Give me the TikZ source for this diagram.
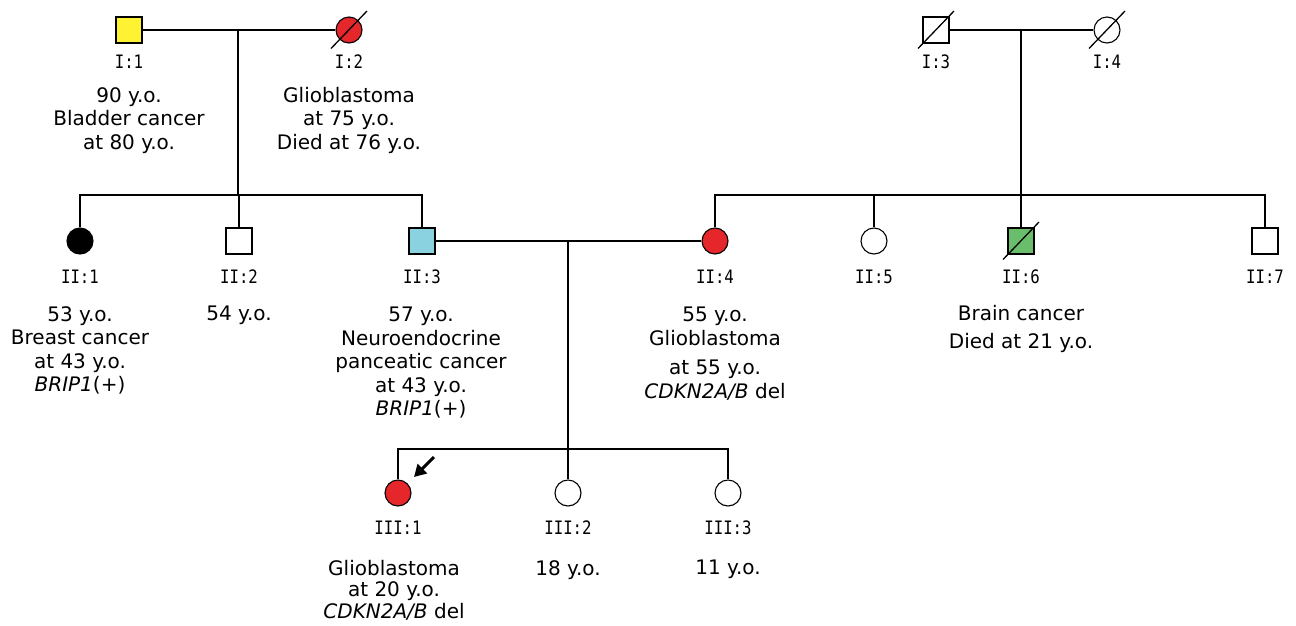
\documentclass[tikz,border=0pt]{standalone}
\usepackage{fontspec}
\setmainfont{DejaVu Sans}
\newfontfamily\labelfont[FakeStretch=0.85]{DejaVu Sans Mono}
\usetikzlibrary{arrows.meta,calc}
\definecolor{glioRed}{RGB}{229,38,43}
\definecolor{bladderYellow}{RGB}{255,242,50}
\definecolor{pancCyan}{RGB}{138,210,224}
\definecolor{brainGreen}{RGB}{106,190,107}
\tikzset{
    male/.style = {
        draw, rectangle,
        minimum size=26pt,
        inner sep=0pt,
        line width=1.1pt,
        },
    female/.style = {
        draw, circle,
        minimum size=26pt,
        inner sep=0pt,
        line width=1.1pt,
        },
    deceased/.style = {
        line width=1.3pt,
        },
    family line/.style = {
        draw,
        line width=1.6pt,
        },
    person id/.style = {
        font=\labelfont\fontsize{18.5}{22}\selectfont,
        inner sep=0pt,
        },
    info/.style = {
        font=\fontsize{20}{23.5}\selectfont,
        align=center,
        anchor=north,
        inner sep=0pt,
        },
    proband/.style = {
        -{Triangle[length=12pt,width=13pt]},
        line width=3pt,
        },
}

\begin{document}
\begin{tikzpicture}[x=1pt,y=-1pt]
            \useasboundingbox (0,0) rectangle (1296,625);

            \node[male, fill=bladderYellow] (I1) at (129,30) {};
            \node[female, fill=glioRed] (I2) at (349,30) {};
            \node[male] (I3) at (936,30) {};
            \node[female] (I4) at (1107,30) {};

            \node[female, fill=black] (II1) at (80,241) {};
            \node[male] (II2) at (239,241) {};
            \node[male, fill=pancCyan] (II3) at (422,241) {};
            \node[female, fill=glioRed] (II4) at (715,241) {};
            \node[female] (II5) at (874,241) {};
            \node[male, fill=brainGreen] (II6) at (1021,241) {};
            \node[male] (II7) at (1265,241) {};

            \node[female, fill=glioRed] (III1) at (398,493) {};
            \node[female] (III2) at (568,493) {};
            \node[female] (III3) at (728,493) {};

            \coordinate (m1) at (238,30);
            \coordinate (s1) at (238,195);
            \coordinate (m2) at (1021,30);
            \coordinate (s2) at (1021,195);
            \coordinate (m3) at (568,241);
            \coordinate (s3) at (568,449);

            \draw[family line] (I1) -- (I2);
            \draw[family line] (m1) -- (s1);
            \draw[family line] (II1) |- (s1) -| (II3);
            \draw[family line] (II2 |- s1) -- (II2);
            \draw[family line] (I3) -- (I4);
            \draw[family line] (m2) -- (II6);
            \draw[family line] (II4) |- (s2) -| (II7);
            \draw[family line] (II5 |- s2) -- (II5);
            \draw[family line] (II3) -- (II4);
            \draw[family line] (m3) -- (III2);
            \draw[family line] (III1) |- (s3) -| (III3);

            \draw[deceased] ($(I2)+(-18,18.5)$) -- ($(I2)+(18,-19)$);
            \draw[deceased] ($(I3)+(-18,18.5)$) -- ($(I3)+(18,-19)$);
            \draw[deceased] ($(I4)+(-18,18.5)$) -- ($(I4)+(18,-19)$);
            \draw[deceased] ($(II6)+(-18,18.5)$) -- ($(II6)+(18,-19)$);

            \coordinate (arrowStart) at (434,457);
            \coordinate (arrowEnd) at (414,477);
            \draw[proband] (arrowStart) -- (arrowEnd);

            \node[person id] (I1id) at (129,61.5) {I:1};
            \node[person id] (I2id) at (349,61.5) {I:2};
            \node[person id] (I3id) at (936,61.5) {I:3};
            \node[person id] (I4id) at (1107,61.5) {I:4};
            \node[person id] (II1id) at (80,276.5) {II:1};
            \node[person id] (II2id) at (239,276.5) {II:2};
            \node[person id] (II3id) at (422,276.5) {II:3};
            \node[person id] (II4id) at (715,276.5) {II:4};
            \node[person id] (II5id) at (874,276.5) {II:5};
            \node[person id] (II6id) at (1021,276.5) {II:6};
            \node[person id] (II7id) at (1265,276.5) {II:7};
            \node[person id] (III1id) at (398,528) {III:1};
            \node[person id] (III2id) at (568,528) {III:2};
            \node[person id] (III3id) at (728,528) {III:3};

            \node[info] (I1info) at (129,87) {90 y.o.\\Bladder cancer\\at 80 y.o.};
            \node[info] (I2info) at (349,87) {Glioblastoma\\at 75 y.o.\\Died at 76 y.o.};
            \node[info] (II1info) at (80,306) {53 y.o.\\Breast cancer\\at 43 y.o.\\\textit{BRIP1}(+)};
            \node[info] (II2info) at (239,306) {54 y.o.};
            \node[info] (II3info) at (421,307) {57 y.o.\\Neuroendocrine\\panceatic cancer\\at 43 y.o.\\\textit{BRIP1}(+)};
            \node[info] (II4info) at (715,307) {55 y.o.\\Glioblastoma\\[6pt]at 55 y.o.\\\textit{CDKN2A/B} del};
            \node[info] (II6info) at (1021,305) {Brain cancer\\[4.5pt]Died at 21 y.o.};
            \node[info] (III1info) at (394,560) {Glioblastoma\\[-2pt]at 20 y.o.\\[-2pt]\textit{CDKN2A/B} del};
            \node[info] (III2info) at (568,560) {18 y.o.};
            \node[info] (III3info) at (728,560) {11 y.o.};
        \end{tikzpicture}
\end{document}
